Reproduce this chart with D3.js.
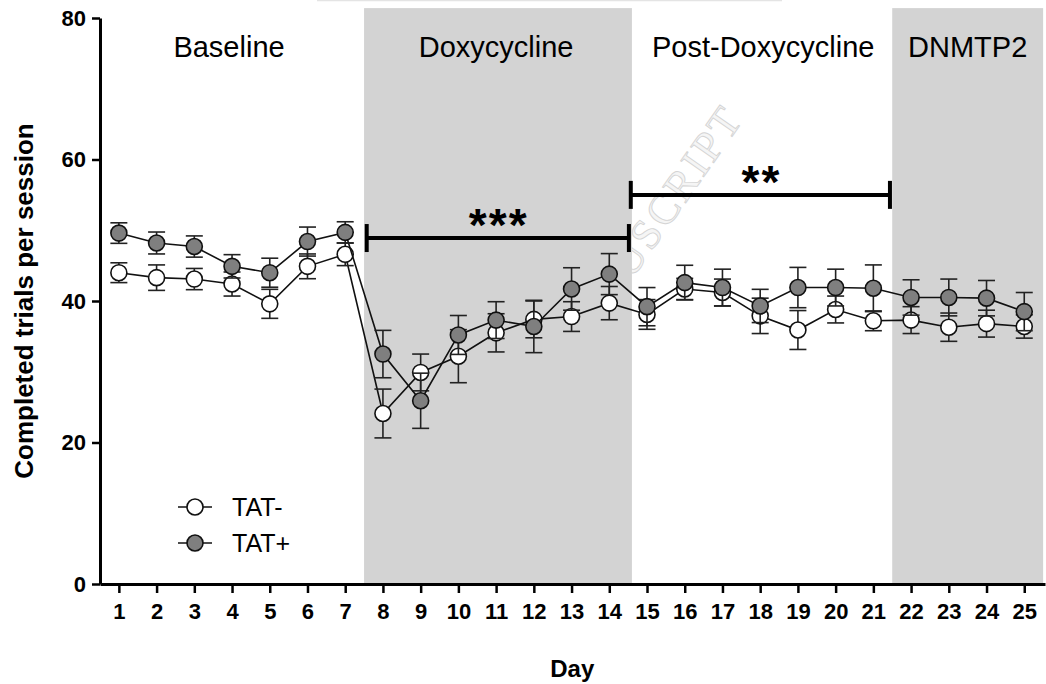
<!DOCTYPE html>
<html>
<head>
<meta charset="utf-8">
<script src="https://cdn.jsdelivr.net/npm/d3@7"></script>
<style>
  html, body { margin: 0; padding: 0; background: #fff; }
  svg { display: block; }
  text { font-family: "Liberation Sans", Arial, sans-serif; }
</style>
</head>
<body>
<svg id="chart" width="1046" height="684"></svg>
<script>
// Days of testing
const days = [1,2,3,4,5,6,7,8,9,10,11,12,13,14,15,16,17,18,19,20,21,22,23,24,25];

// Completed trials per session (mean ± SEM)
const tatNegMean = [44.0, 43.3, 43.1, 42.4, 39.6, 44.9, 46.6, 24.1, 29.9, 32.2, 35.5, 37.4, 37.8,
                    39.7, 38.1, 41.7, 41.2, 37.9, 35.9, 38.8, 37.2, 37.3, 36.3, 36.8, 36.4];
const tatNegSem  = [1.4, 1.8, 1.5, 1.7, 2.05, 1.75, 1.6, 3.45, 2.6, 3.75, 2.7, 2.6, 2.1,
                    2.35, 2.1, 1.5, 1.9, 2.5, 2.75, 1.9, 1.4, 1.9, 2.0, 1.9, 1.65];
const tatPosMean = [49.6, 48.2, 47.7, 44.9, 44.0, 48.4, 49.7, 32.5, 25.9, 35.2, 37.3, 36.4, 41.7,
                    43.8, 39.2, 42.6, 41.9, 39.3, 41.9, 41.9, 41.8, 40.5, 40.5, 40.4, 38.5];
const tatPosSem  = [1.45, 1.55, 1.5, 1.65, 2.05, 2.05, 1.5, 3.35, 3.9, 2.75, 2.6, 3.7, 3.0,
                    2.9, 2.7, 2.45, 2.6, 2.35, 2.85, 2.6, 3.3, 2.5, 2.6, 2.5, 2.7];

const yTicks = [0, 20, 40, 60, 80];

// Experimental phases
const phaseNames  = ["Baseline", "Doxycycline", "Post-Doxycycline", "DNMTP2"];
const phaseCenter = [3.92, 11.0, 18.08, 23.5];
const shadedPhases = [[7.5, 14.6], [21.5, 25.5]];

// Significance brackets
const sigLabels = ["***", "**"];
const sigStart  = [7.57, 14.57];
const sigEnd    = [14.52, 21.44];
const sigLevel  = [48.9, 55.0];

const svg = d3.select("#chart");
const x = d3.scaleLinear().domain([0.5, 25.55]).range([100, 1045]);
const y = d3.scaleLinear().domain([0, 80]).range([584, 18]);
const shadeTop = 81.4;

// light rule along the top edge
svg.append("line").attr("x1", 317).attr("x2", 782).attr("y1", 0.5).attr("y2", 0.5)
  .attr("stroke", "#e4e4e4").attr("stroke-width", 1.5);

// watermark
svg.append("text")
  .attr("transform", "translate(745,118) rotate(-55)")
  .attr("text-anchor", "end")
  .style("font-family", "'Liberation Serif', 'DejaVu Serif', serif")
  .style("font-size", "43px")
  .style("letter-spacing", "3px")
  .attr("fill", "#f5f5f5").attr("stroke", "#d4d4d4").attr("stroke-width", 0.9)
  .text("ACCEPTED MANUSCRIPT");

// shaded phases
svg.selectAll("rect.phase").data(shadedPhases).join("rect")
  .attr("class", "phase")
  .attr("x", d => x(d[0])).attr("width", d => x(d[1]) - x(d[0]))
  .attr("y", y(shadeTop)).attr("height", y(0) - y(shadeTop))
  .attr("fill", "#d3d3d3");

// phase labels
svg.selectAll("text.phase").data(phaseNames).join("text")
  .attr("class", "phase")
  .attr("x", (d, i) => x(phaseCenter[i])).attr("y", 57)
  .attr("text-anchor", "middle")
  .style("font-size", "29px").attr("fill", "#000")
  .text(d => d);

// significance brackets
sigLabels.forEach((lab, i) => {
  const g = svg.append("g");
  const yy = y(sigLevel[i]);
  g.append("line").attr("x1", x(sigStart[i])).attr("x2", x(sigEnd[i]))
    .attr("y1", yy).attr("y2", yy).attr("stroke", "#000").attr("stroke-width", 4);
  [sigStart[i], sigEnd[i]].forEach(v => {
    g.append("line").attr("x1", x(v)).attr("x2", x(v))
      .attr("y1", yy - 14).attr("y2", yy + 14)
      .attr("stroke", "#000").attr("stroke-width", 4);
  });
  const mid = (x(sigStart[i]) + x(sigEnd[i])) / 2;
  const n = lab.length;
  for (let k = 0; k < n; k++) {
    g.append("text")
      .attr("x", mid + (k - (n - 1) / 2) * 20).attr("y", yy + 3)
      .attr("text-anchor", "middle")
      .style("font-size", "46px").style("font-weight", "bold")
      .text("*");
  }
});

// axes
const xAxis = d3.axisBottom(x).tickValues(days).tickFormat(d3.format("d"))
  .tickSize(9).tickSizeOuter(0).tickPadding(10);
const yAxis = d3.axisLeft(y).tickValues(yTicks).tickFormat(d3.format("d"))
  .tickSize(8).tickSizeOuter(0).tickPadding(6);

const gx = svg.append("g").attr("transform", `translate(0,${y(0)})`).call(xAxis);
const gy = svg.append("g").attr("transform", `translate(${x(0.5)},0)`).call(yAxis);
[gx, gy].forEach(g => {
  g.select(".domain").attr("stroke", "#000").attr("stroke-width", 3);
  g.selectAll(".tick line").attr("stroke", "#000").attr("stroke-width", 2.5);
  g.selectAll(".tick text").attr("fill", "#000")
    .style("font-family", "'Liberation Sans', Arial, sans-serif")
    .style("font-size", "22px").style("font-weight", "bold");
});

// axis titles
svg.append("text").attr("x", x(13.02)).attr("y", 677)
  .attr("text-anchor", "middle").style("font-size", "24px").style("font-weight", "bold")
  .text("Day");
svg.append("text").attr("transform", `translate(33,${y(40)}) rotate(-90)`)
  .attr("text-anchor", "middle").style("font-size", "26px").style("font-weight", "bold")
  .text("Completed trials per session");

// series
const series = [
  { name: "TAT-", mean: tatNegMean, sem: tatNegSem, fill: "#ffffff" },
  { name: "TAT+", mean: tatPosMean, sem: tatPosSem, fill: "#7f7f7f" }
];
const r = 8;
const cap = 8.5;

series.forEach(s => {
  const pts = days.map((d, i) => ({ d, m: s.mean[i], e: s.sem[i] }));
  const g = svg.append("g");
  g.append("path").datum(pts)
    .attr("d", d3.line().x(p => x(p.d)).y(p => y(p.m)))
    .attr("fill", "none").attr("stroke", "#111").attr("stroke-width", 1.6);
  const eb = g.selectAll("g.err").data(pts).join("g").attr("class", "err")
    .attr("stroke", "#222").attr("stroke-width", 1.6);
  eb.append("line").attr("x1", p => x(p.d)).attr("x2", p => x(p.d))
    .attr("y1", p => y(p.m + p.e)).attr("y2", p => y(p.m - p.e));
  eb.append("line").attr("x1", p => x(p.d) - cap).attr("x2", p => x(p.d) + cap)
    .attr("y1", p => y(p.m + p.e)).attr("y2", p => y(p.m + p.e));
  eb.append("line").attr("x1", p => x(p.d) - cap).attr("x2", p => x(p.d) + cap)
    .attr("y1", p => y(p.m - p.e)).attr("y2", p => y(p.m - p.e));
  g.selectAll("circle").data(pts).join("circle")
    .attr("cx", p => x(p.d)).attr("cy", p => y(p.m)).attr("r", r)
    .attr("fill", s.fill).attr("stroke", "#111").attr("stroke-width", 1.6);
});

// legend
const legend = svg.append("g");
series.forEach((s, i) => {
  const cy = 507 + i * 36;
  legend.append("line").attr("x1", 178).attr("x2", 212).attr("y1", cy).attr("y2", cy)
    .attr("stroke", "#111").attr("stroke-width", 1.6);
  legend.append("circle").attr("cx", 195).attr("cy", cy).attr("r", r)
    .attr("fill", s.fill).attr("stroke", "#111").attr("stroke-width", 1.6);
  legend.append("text").attr("x", 232).attr("y", cy + 9)
    .style("font-size", "25px").attr("fill", "#000").text(s.name);
});
</script>
</body>
</html>
